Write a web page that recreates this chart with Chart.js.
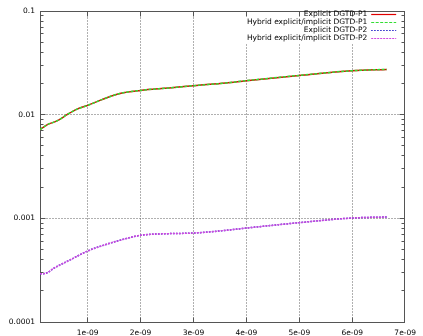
<!DOCTYPE html>
<html>
<head>
<meta charset="utf-8">
<script src="https://cdn.jsdelivr.net/npm/chart.js@4.4.0/dist/chart.umd.min.js"></script>
<style>
  html, body { margin: 0; padding: 0; background: #fff; }
  canvas { display: block; }
</style>
</head>
<body>
<canvas id="c" width="423" height="336"></canvas>
<script>
// Error history over simulated time (seconds)
const timeP1 = [1.0e-10, 2.4e-10, 4.3e-10, 6.1e-10, 8.0e-10, 1.0e-9, 1.3e-9, 1.61e-9, 2.0e-9, 2.54e-9, 3.0e-9, 3.61e-9, 4.0e-9, 5.0e-9, 6.0e-9, 6.65e-9];
const explicitP1 = [0.00717, 0.00801, 0.00875, 0.01000, 0.01130, 0.01229, 0.01417, 0.01600, 0.01715, 0.01809, 0.01904, 0.02021, 0.02128, 0.02393, 0.02656, 0.02734];
const hybridP1   = [0.00717, 0.00801, 0.00875, 0.01000, 0.01130, 0.01229, 0.01417, 0.01600, 0.01715, 0.01809, 0.01904, 0.02021, 0.02128, 0.02393, 0.02656, 0.02734];

const timeP2 = [1.0e-10, 2.0e-10, 3.7e-10, 6.8e-10, 1.0e-9, 1.3e-9, 1.61e-9, 2.0e-9, 2.54e-9, 3.0e-9, 3.61e-9, 4.0e-9, 5.0e-9, 6.0e-9, 6.65e-9];
const explicitP2 = [0.000292, 0.000294, 0.000332, 0.000400, 0.000484, 0.000550, 0.000614, 0.000686, 0.000712, 0.000721, 0.000766, 0.000806, 0.000909, 0.001007, 0.00103];
const hybridP2   = [0.000292, 0.000294, 0.000332, 0.000400, 0.000484, 0.000550, 0.000614, 0.000686, 0.000712, 0.000721, 0.000766, 0.000806, 0.000909, 0.001007, 0.00103];

const seriesNames = ['Explicit DGTD-P1', 'Hybrid explicit/implicit DGTD-P1', 'Explicit DGTD-P2', 'Hybrid explicit/implicit DGTD-P2'];
const seriesColors = ['#e00000', '#33dd33', '#2020c8', '#d048e0'];
const seriesDash = [[], [3, 1.5], [1.5, 1.5], [2, 1]];

const xTickValues = [1e-9, 2e-9, 3e-9, 4e-9, 5e-9, 6e-9, 7e-9];
const xTickLabels = ['1e-09', '2e-09', '3e-09', '4e-09', '5e-09', '6e-09', '7e-09'];
const yTickValues = [1e-4, 1e-3, 1e-2, 1e-1];
const yTickLabels = ['0.0001', '0.001', '0.01', '0.1'];

const FONT = '"DejaVu Sans", sans-serif';
const toPoints = (t, v) => t.map((x, i) => ({ x: x, y: v[i] }));

function seg(ctx, x1, y1, x2, y2) {
  ctx.beginPath(); ctx.moveTo(x1, y1); ctx.lineTo(x2, y2); ctx.stroke();
}

// gnuplot-style frame: dotted grid, opaque key area, border with inward ticks, key
const frame = {
  id: 'frame',
  beforeDatasetsDraw(chart) {
    const { ctx, chartArea: a, scales: { x, y } } = chart;
    const L = Math.floor(a.left) + 0.5, R = Math.floor(a.right) - 0.5;
    const T = Math.floor(a.top) + 0.5, B = Math.floor(a.bottom) + 0.5;
    ctx.save();
    ctx.lineWidth = 1;

    // grid
    ctx.strokeStyle = '#606060';
    ctx.setLineDash([1, 2]);
    xTickValues.forEach(v => {
      const px = Math.floor(x.getPixelForValue(v)) + 0.5;
      if (px < R - 1) seg(ctx, px, T, px, B);
    });
    yTickValues.forEach(v => {
      const py = Math.floor(y.getPixelForValue(v)) + 0.5;
      if (py > T + 1 && py < B - 1) seg(ctx, L, py, R, py);
    });
    ctx.setLineDash([]);

    // key background
    ctx.fillStyle = '#ffffff';
    ctx.fillRect(a.right - 164, a.top + 1, 163, 31);

    // border
    ctx.strokeStyle = '#555555';
    ctx.strokeRect(L, T, R - L, B - T);

    // major x ticks (bottom and top)
    xTickValues.forEach(v => {
      const px = Math.floor(x.getPixelForValue(v)) + 0.5;
      if (px >= R - 1) return;
      seg(ctx, px, B, px, B - 5);
      seg(ctx, px, T, px, T + 5);
    });
    // y ticks, major and minor (left and right)
    for (let d = -4; d < 0; d++) {
      for (let m = 1; m <= 9; m++) {
        const v = m * Math.pow(10, d);
        if (v > 0.1 * 1.0001) continue;
        const py = Math.floor(y.getPixelForValue(v)) + 0.5;
        const len = m === 1 ? 5 : 3;
        seg(ctx, L, py, L + len, py);
        seg(ctx, R, py, R - len, py);
      }
    }
    ctx.restore();
  },
  afterDatasetsDraw(chart) {
    const { ctx, chartArea: a } = chart;
    ctx.save();
    ctx.font = '7.5px ' + FONT;
    ctx.textAlign = 'right';
    ctx.textBaseline = 'middle';
    seriesNames.forEach((name, i) => {
      const yy = Math.round(a.top + 3 + i * 8) + 0.5;
      ctx.fillStyle = '#000000';
      ctx.fillText(name, a.right - 38, yy);
      ctx.strokeStyle = seriesColors[i];
      ctx.lineWidth = 1.2;
      ctx.setLineDash(seriesDash[i]);
      seg(ctx, a.right - 34, yy, a.right - 9, yy);
    });
    ctx.restore();
  }
};

new Chart(document.getElementById('c'), {
  type: 'line',
  data: {
    datasets: [
      { label: seriesNames[0], data: toPoints(timeP1, explicitP1), borderColor: seriesColors[0], borderWidth: 1.5, borderDash: seriesDash[0], order: 4 },
      { label: seriesNames[1], data: toPoints(timeP1, hybridP1), borderColor: seriesColors[1], borderWidth: 1.5, borderDash: seriesDash[1], order: 3 },
      { label: seriesNames[2], data: toPoints(timeP2, explicitP2), borderColor: seriesColors[2], borderWidth: 1.5, borderDash: seriesDash[2], order: 2 },
      { label: seriesNames[3], data: toPoints(timeP2, hybridP2), borderColor: seriesColors[3], borderWidth: 1.5, borderDash: seriesDash[3], order: 1 }
    ]
  },
  options: {
    responsive: false,
    animation: false,
    events: [],
    layout: { padding: { top: 11, right: 13, left: 0, bottom: 0 } },
    elements: { point: { radius: 0 }, line: { cubicInterpolationMode: 'monotone', fill: false } },
    plugins: { legend: { display: false }, tooltip: { enabled: false }, title: { display: false } },
    scales: {
      x: {
        type: 'linear',
        min: 1e-10,
        max: 7e-9,
        grid: { display: false, drawTicks: false },
        border: { display: false },
        afterBuildTicks: s => { s.ticks = xTickValues.map(v => ({ value: v })); },
        afterFit: s => { s.height = 14; },
        ticks: {
          autoSkip: false, maxRotation: 0, padding: 7, color: '#000',
          font: { family: FONT, size: 7.5 },
          callback: (v, i) => xTickLabels[i]
        }
      },
      y: {
        type: 'logarithmic',
        min: 1e-4,
        max: 1e-1,
        grid: { display: false, drawTicks: false },
        border: { display: false },
        afterBuildTicks: s => { s.ticks = yTickValues.map(v => ({ value: v })); },
        afterFit: s => { s.width = 40; },
        ticks: {
          autoSkip: false, padding: 5, color: '#000',
          font: { family: FONT, size: 7.5 },
          callback: (v, i) => yTickLabels[i]
        }
      }
    }
  },
  plugins: [frame]
});
</script>
</body>
</html>
